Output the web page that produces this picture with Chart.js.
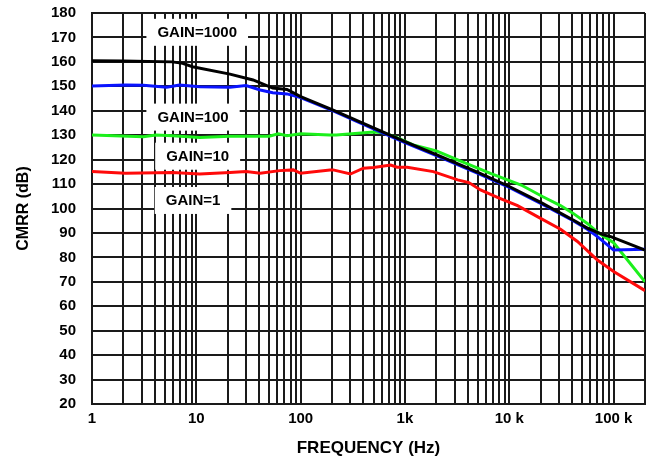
<!DOCTYPE html>
<html>
<head>
<meta charset="utf-8">
<script src="https://cdn.jsdelivr.net/npm/chart.js@4/dist/chart.umd.min.js"></script>
<style>
  html, body { margin: 0; padding: 0; background: #fff; }
  #wrap { width: 654px; height: 466px; }
</style>
</head>
<body>
<div id="wrap"><canvas id="cmrr" width="654" height="466"></canvas></div>
<script>
// CMRR vs frequency, one curve per gain
const freqG1000 = [1, 2, 5.9, 7.4, 9.2, 21, 35, 54, 74, 100, 200, 500, 1000, 2000, 5000, 10000, 20000, 41000, 56000, 80000, 94000, 200000];
const cmrrG1000 = [160.5, 160.4, 160.0, 159.4, 158.0, 155.0, 152.6, 149.3, 148.7, 145.8, 140.5, 133.0, 127.4, 122.0, 114.8, 109.0, 102.5, 95.3, 92.0, 89.2, 88.5, 83.0];

const freqG100 = [1, 2.1, 3.1, 5.2, 6.9, 10.8, 21, 30, 41, 54, 74, 100, 200, 500, 1000, 2000, 5000, 10000, 20000, 41000, 56000, 70000, 100000, 200000];
const cmrrG100 = [150.1, 150.5, 150.4, 149.6, 150.5, 149.8, 149.6, 150.3, 148.5, 147.4, 146.9, 145.4, 140.2, 132.6, 127.0, 121.6, 114.4, 108.6, 102.1, 95.0, 91.5, 88.5, 83.0, 83.3];

const freqG10 = [1, 3.1, 4.1, 5.9, 10.8, 21, 50, 61, 74, 100, 190, 220, 500, 620, 840, 1200, 2000, 3200, 6600, 13000, 21000, 31000, 41000, 56000, 70000, 100000, 200000];
const cmrrG10 = [130.1, 129.4, 130.1, 129.8, 129.1, 129.6, 129.6, 130.6, 129.8, 130.6, 130.1, 130.1, 131.3, 131.0, 129.0, 126.0, 123.6, 119.9, 114.4, 109.6, 104.8, 101.2, 98.0, 93.9, 90.3, 86.0, 70.0];

const freqG1 = [1, 2.1, 5.9, 10.8, 21, 30, 41, 63, 85, 100, 191, 205, 300, 400, 500, 730, 840, 1050, 1870, 3200, 4100, 5300, 7700, 12000, 18600, 31000, 45000, 70000, 100000, 200000];
const cmrrG1 = [115.1, 114.4, 114.7, 114.1, 114.7, 115.1, 114.4, 115.5, 115.8, 114.4, 115.8, 115.8, 114.1, 116.5, 116.8, 117.8, 116.9, 116.9, 115.1, 111.7, 110.6, 107.6, 104.6, 101.2, 96.7, 91.5, 86.5, 78.9, 74.2, 66.4];

// x axis labels (decades) and curve annotations
const xLabelValues = [1, 10, 100, 1000, 10000, 100000];
const xLabelTexts = ["1", "10", "100", "1k", "10 k", "100 k"];
const gainLabels = ["GAIN=1000", "GAIN=100", "GAIN=10", "GAIN=1"];
const gainLabelFreq = [10.2, 9.3, 10.3, 9.3];
const gainLabelDb = [172.3, 137.6, 121.6, 103.5];

const FONT = "'Liberation Sans', Arial, sans-serif";
const GRID = "#1a1a1a";

function toPoints(xs, ys) {
  return xs.map((x, i) => ({ x: x, y: ys[i] }));
}

// all log grid positions 1..9 per decade up to 200k
const gridTicks = [];
for (let d = 1; d <= 100000; d *= 10) {
  for (let m = 1; m <= 9; m++) gridTicks.push(m * d);
}
gridTicks.push(200000);

const gainLabelPlugin = {
  id: "gainLabels",
  afterDatasetsDraw(chart) {
    const { ctx, scales } = chart;
    ctx.save();
    ctx.font = "bold 15px " + FONT;
    ctx.textAlign = "center";
    ctx.textBaseline = "middle";
    gainLabels.forEach((txt, i) => {
      const x = scales.x.getPixelForValue(gainLabelFreq[i]);
      const y = scales.y.getPixelForValue(gainLabelDb[i]);
      const w = ctx.measureText(txt).width;
      ctx.fillStyle = "#fff";
      ctx.fillRect(x - w / 2 - 11, y - 13, w + 22, 27);
      ctx.fillStyle = "#000";
      ctx.fillText(txt, x, y + 1);
    });
    ctx.restore();
  },
};

const series = [
  { label: "GAIN=1000", data: toPoints(freqG1000, cmrrG1000), borderColor: "#000000" },
  { label: "GAIN=100", data: toPoints(freqG100, cmrrG100), borderColor: "#0a14ff" },
  { label: "GAIN=10", data: toPoints(freqG10, cmrrG10), borderColor: "#1cf01c" },
  { label: "GAIN=1", data: toPoints(freqG1, cmrrG1), borderColor: "#ff0a0a" },
];

new Chart(document.getElementById("cmrr"), {
  type: "line",
  data: {
    datasets: series.map((s) => ({
      label: s.label,
      data: s.data,
      borderColor: s.borderColor,
      borderWidth: 3,
      pointRadius: 0,
      tension: 0,
      fill: false,
    })),
  },
  options: {
    responsive: false,
    animation: false,
    layout: { padding: { top: 13, right: 9, bottom: 0, left: 0 } },
    plugins: { legend: { display: false }, tooltip: { enabled: false } },
    scales: {
      x: {
        type: "logarithmic",
        min: 1,
        max: 200000,
        afterBuildTicks(scale) {
          scale.ticks = gridTicks.map((v) => ({ value: v }));
        },
        afterFit(scale) {
          scale.height = 62;
          scale.paddingLeft = 0;
          scale.paddingRight = 0;
        },
        grid: { color: GRID, lineWidth: 2, drawTicks: false },
        border: { color: GRID, width: 2 },
        ticks: {
          autoSkip: false,
          maxRotation: 0,
          padding: 6,
          color: "#000",
          font: { family: FONT, size: 15, weight: "bold" },
          callback(value) {
            const idx = xLabelValues.indexOf(value);
            return idx >= 0 ? xLabelTexts[idx] : "";
          },
        },
        title: {
          display: true,
          text: "FREQUENCY (Hz)",
          color: "#000",
          font: { family: FONT, size: 17, weight: "bold" },
          padding: { top: 0, bottom: 7 },
        },
      },
      y: {
        min: 20,
        max: 180,
        afterFit(scale) {
          scale.width = 92;
          scale.paddingTop = 0;
          scale.paddingBottom = 0;
        },
        grid: { color: GRID, lineWidth: 2, drawTicks: false },
        border: { color: GRID, width: 2 },
        ticks: {
          stepSize: 10,
          padding: 16,
          color: "#000",
          font: { family: FONT, size: 15, weight: "bold" },
        },
        title: {
          display: true,
          text: "CMRR (dB)",
          color: "#000",
          font: { family: FONT, size: 16, weight: "bold" },
          padding: { top: 14, bottom: 0 },
        },
      },
    },
  },
  plugins: [gainLabelPlugin],
});
</script>
</body>
</html>
